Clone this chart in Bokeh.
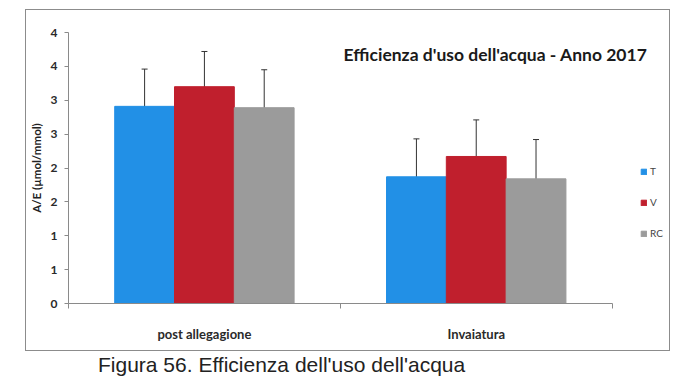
from bokeh.plotting import figure
from bokeh.models import (ColumnDataSource, Whisker, Legend, LegendItem, Div,
                          Label, Range1d, FixedTicker, TeeHead)
from bokeh.layouts import column
from bokeh.transform import dodge
from bokeh.embed import file_html
from bokeh.resources import INLINE

# ---- data ----
categories = ["post allegagione", "Invaiatura"]
series = ["T", "V", "RC"]
T_vals = [2.91, 1.87]
V_vals = [3.20, 2.17]
RC_vals = [2.89, 1.84]
T_err = [0.55, 0.56]
V_err = [0.52, 0.54]
RC_err = [0.56, 0.58]
y_ticks = [0.0, 0.5, 1.0, 1.5, 2.0, 2.5, 3.0, 3.5, 4.0]
y_tick_labels = ["0", "1", "1", "2", "2", "3", "3", "4", "4"]
title_text = "Efficienza d'uso dell'acqua - Anno 2017"
y_label = "A/E (\u00b5mol/mmol)"
caption_text = "Figura 56. Efficienza dell'uso dell'acqua"

colors = {"T": "#2290e6", "V": "#c01f2d", "RC": "#9b9b9b"}
offsets = {"T": -0.22, "V": 0.0, "RC": 0.22}

n_cat = len(categories)
cat_pos = [i + 0.5 for i in range(n_cat)]
cat_bounds = [float(i) for i in range(n_cat + 1)]

vals = {"T": T_vals, "V": V_vals, "RC": RC_vals}
errs = {"T": T_err, "V": V_err, "RC": RC_err}
data = {"pos": cat_pos}
for s in series:
    data[s] = vals[s]
    data[s + "_up"] = [v + e for v, e in zip(vals[s], errs[s])]
    data[s + "_lo"] = [v - e for v, e in zip(vals[s], errs[s])]
source = ColumnDataSource(data)

FONT = "Lato"

p = figure(x_range=Range1d(0, n_cat + 0.2), y_range=Range1d(0, 4),
           width=645, height=342, output_backend="svg", toolbar_location=None,
           min_border_left=42, min_border_right=5, min_border_top=22, min_border_bottom=49)
p.styles = {"border": "1px solid #8c8c8c", "margin-left": "25px", "margin-top": "9px"}

items = []
for s in series:
    r = p.vbar(x=dodge("pos", offsets[s]), top=s, width=0.22,
               source=source, fill_color=colors[s], line_color=colors[s])
    items.append(LegendItem(label=s, renderers=[r]))
for s in series:
    w = Whisker(base=dodge("pos", offsets[s]), upper=s + "_up", lower=s + "_lo",
                source=source, line_color="#333333", line_width=1,
                upper_head=TeeHead(size=6, line_color="#333333"),
                lower_head=TeeHead(size=6, line_color="#333333"))
    p.add_layout(w)

legend = Legend(items=items, location=(572, 60), border_line_color=None,
                background_fill_alpha=0, glyph_width=7, glyph_height=7,
                label_height=20, spacing=11, padding=0, margin=0,
                label_text_font=FONT, label_text_font_size="10px", label_text_color="#444444",
                label_standoff=3)
p.add_layout(legend)

title = Label(x=427, y=3.68, x_units="screen", y_units="data", text=title_text,
              text_font=FONT, text_font_style="bold", text_font_size="17.5px",
              text_align="center", text_baseline="middle", text_color="#1a1a1a")
p.add_layout(title)

p.xgrid.grid_line_color = None
p.ygrid.grid_line_color = None
p.outline_line_color = None
p.background_fill_color = "white"

p.yaxis.ticker = FixedTicker(ticks=y_ticks)
p.yaxis.major_label_overrides = dict(zip(y_ticks, y_tick_labels))
p.yaxis.minor_tick_line_color = None
p.yaxis.major_tick_in = 0
p.yaxis.major_tick_out = 4
p.yaxis.major_label_standoff = 7
p.yaxis.axis_label = y_label
p.yaxis.axis_label_standoff = 5
p.yaxis.axis_label_text_font = FONT
p.yaxis.axis_label_text_font_style = "bold"
p.yaxis.axis_label_text_font_size = "11.5px"
p.yaxis.axis_label_text_color = "#222222"

p.xaxis.ticker = FixedTicker(ticks=cat_pos, minor_ticks=cat_bounds)
p.xaxis.major_label_overrides = dict(zip(cat_pos, categories))
p.xaxis.bounds = (cat_bounds[0], cat_bounds[-1])
p.xaxis.major_tick_line_color = None
p.xaxis.minor_tick_line_color = "#8a8a8a"
p.xaxis.minor_tick_in = 0
p.xaxis.minor_tick_out = 5
p.xaxis.major_label_standoff = 16

for ax in (p.xaxis, p.yaxis):
    ax.axis_line_color = "#8a8a8a"
    ax.major_label_text_font = FONT
    ax.major_label_text_font_style = "bold"
    ax.major_label_text_color = "#2a2a2a"
p.yaxis.major_tick_line_color = "#8a8a8a"
p.yaxis.major_label_text_font_size = "12px"
p.xaxis.major_label_text_font_size = "13px"

caption = Div(text=caption_text, width=600, height=22,
              styles={"font-family": "Liberation Sans", "font-size": "21px",
                      "color": "#222222", "margin-left": "98px", "margin-top": "3px",
                      "line-height": "22px", "white-space": "nowrap"})

layout = column(p, caption, spacing=0)
open("out.html", "w").write(file_html(layout, INLINE))
